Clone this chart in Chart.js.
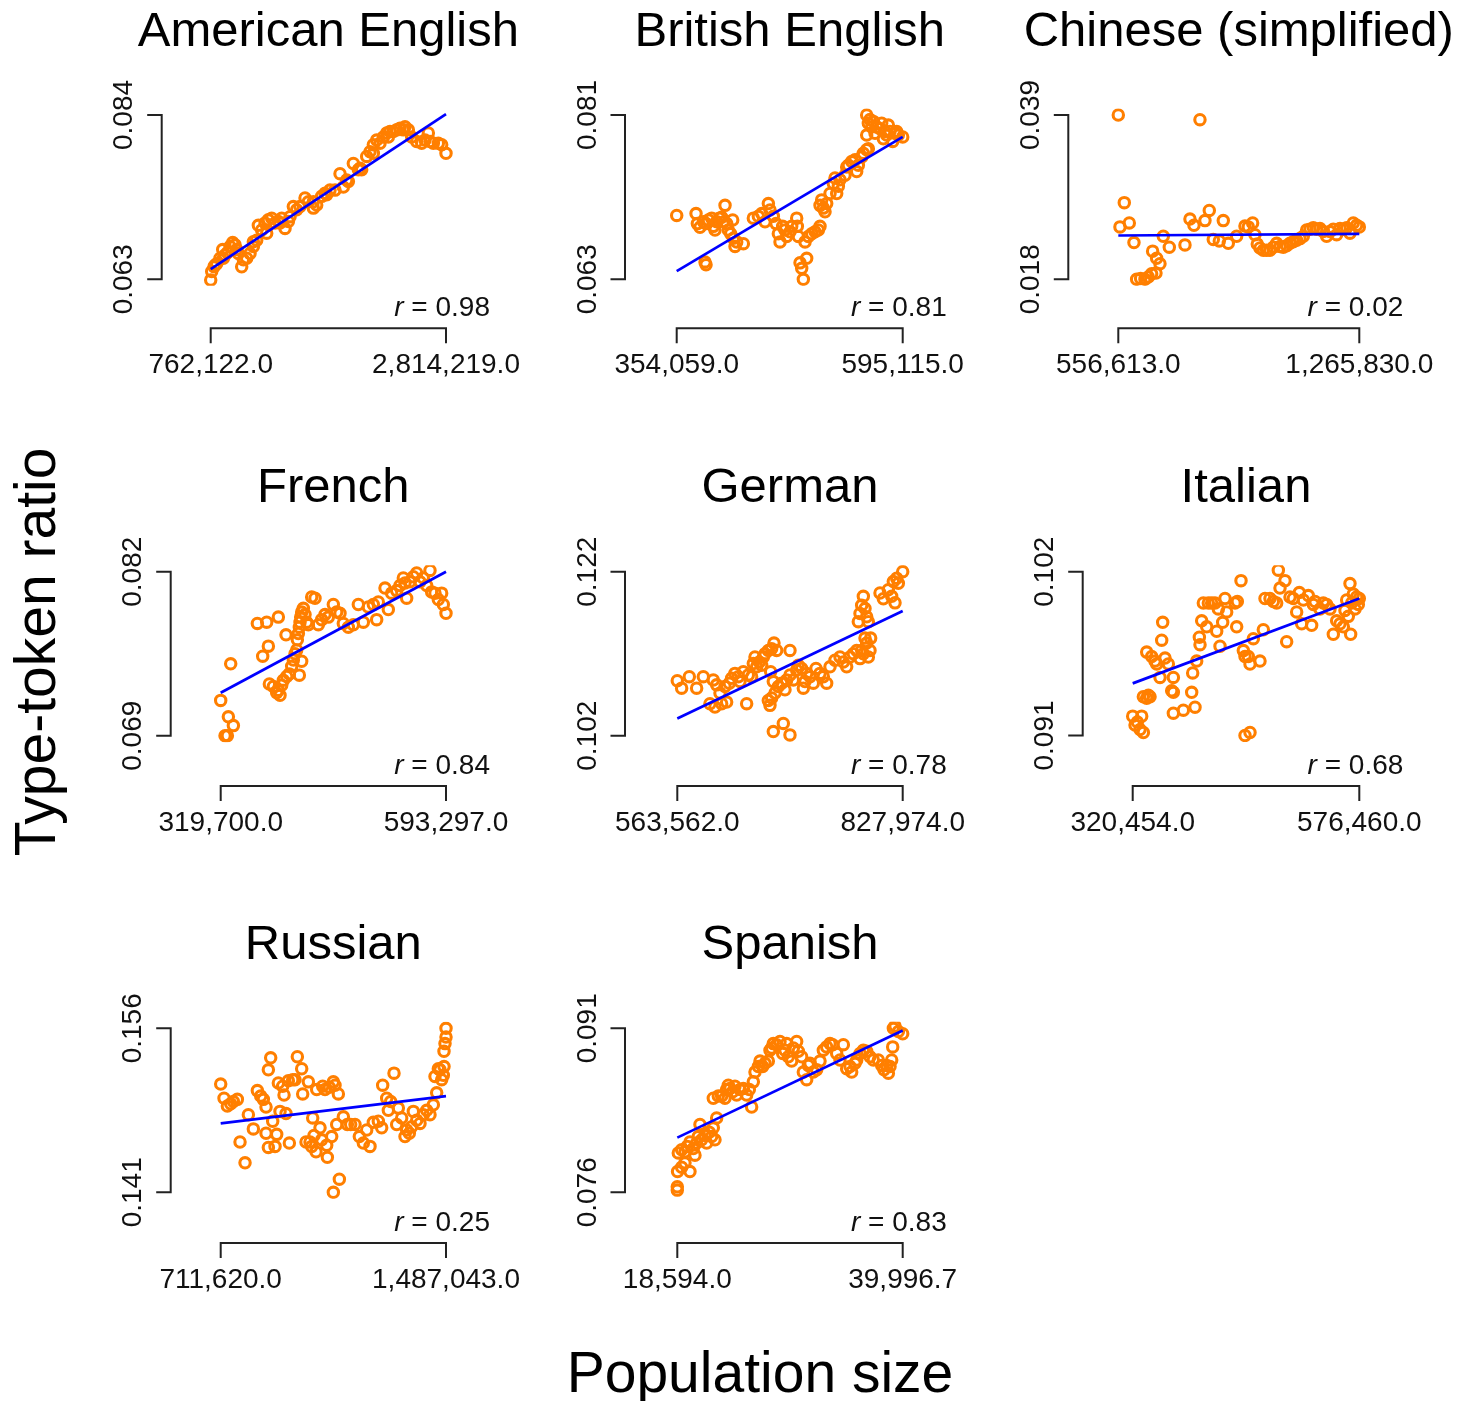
<!DOCTYPE html>
<html><head><meta charset="utf-8">
<script src="https://cdn.jsdelivr.net/npm/chart.js@4.4.0/dist/chart.umd.min.js"></script>
<style>
html,body{margin:0;padding:0;background:#fff;}
#wrap{position:relative;width:1471px;height:1401px;overflow:hidden;font-family:"Liberation Sans",Arial,Helvetica,sans-serif;background:#fff;}
#wrap canvas{position:absolute;left:0;top:0;}
.lab{position:absolute;font-size:57px;line-height:1;color:#000;white-space:nowrap;transform-origin:50% 50%;}
#ylab{left:35px;top:652px;transform:translate(-50%,-50%) rotate(-90deg);}
#xlab{left:760px;top:1372px;transform:translate(-50%,-50%);}
</style></head><body>
<div id="wrap">
<div class="lab" id="ylab">Type-token ratio</div>
<div class="lab" id="xlab">Population size</div>
</div>
<script>
// ---------- DATA ----------
const titles = ["American English","British English","Chinese (simplified)","French","German","Italian","Russian","Spanish"];
const xTicks = [[762122,2814219],[354059,595115],[556613,1265830],[319700,593297],[563562,827974],[320454,576460],[711620,1487043],[18594,39996.7]];
const xTickLabels = [["762,122.0","2,814,219.0"],["354,059.0","595,115.0"],["556,613.0","1,265,830.0"],["319,700.0","593,297.0"],["563,562.0","827,974.0"],["320,454.0","576,460.0"],["711,620.0","1,487,043.0"],["18,594.0","39,996.7"]];
const yTicks = [[0.063,0.084],[0.063,0.081],[0.018,0.039],[0.069,0.082],[0.102,0.122],[0.091,0.102],[0.141,0.156],[0.076,0.091]];
const yTickLabels = [["0.063","0.084"],["0.063","0.081"],["0.018","0.039"],["0.069","0.082"],["0.102","0.122"],["0.091","0.102"],["0.141","0.156"],["0.076","0.091"]];
const rValues = ["0.98","0.81","0.02","0.84","0.78","0.68","0.25","0.83"];
// fitted regression values at the smallest and largest population size
const fitLines = [[0.0643,0.0841],[0.0639,0.0786],[0.0236,0.0238],[0.0724,0.0820],[0.1041,0.1172],[0.0945,0.1002],[0.1473,0.1498],[0.0810,0.0908]];

const americanEnglish = [[762122,0.0629],[770842,0.0640],[791189,0.0646],[814443,0.0650],[843510,0.0657],[866763,0.0668],[887110,0.0661],[907457,0.0664],[930711,0.0672],[953964,0.0677],[974311,0.0674],[1003378,0.0663],[1032445,0.0646],[1046979,0.0655],[1076046,0.0657],[1105113,0.0663],[1134180,0.0672],[1163247,0.0680],[1177780,0.0699],[1206847,0.0693],[1235914,0.0702],[1264981,0.0706],[1294048,0.0708],[1323115,0.0702],[1352182,0.0704],[1381249,0.0708],[1410316,0.0695],[1439383,0.0704],[1482984,0.0723],[1512051,0.0719],[1541118,0.0723],[1584718,0.0734],[1613785,0.0729],[1657386,0.0721],[1686453,0.0725],[1730053,0.0736],[1759120,0.0740],[1802721,0.0744],[1846321,0.0744],[1889922,0.0765],[1918989,0.0748],[1962589,0.0755],[2006190,0.0778],[2049790,0.0770],[2078857,0.0770],[2122458,0.0787],[2151525,0.0793],[2180592,0.0802],[2209659,0.0808],[2238726,0.0804],[2267793,0.0812],[2296860,0.0817],[2325927,0.0819],[2354994,0.0819],[2384061,0.0821],[2413128,0.0823],[2456728,0.0825],[2485795,0.0821],[2514862,0.0812],[2558463,0.0806],[2602063,0.0804],[2631130,0.0808],[2660197,0.0817],[2674730,0.0806],[2703797,0.0804],[2747398,0.0804],[2776465,0.0802],[2814219,0.0791],[799909,0.0648],[872577,0.0657],[988845,0.0668],[1134180,0.0678],[1250448,0.0689],[1366716,0.0702],[1453917,0.0710],[1657386,0.0729],[1773654,0.0738],[1948056,0.0757],[2064324,0.0772],[2180592,0.0791],[2311394,0.0812],[2442195,0.0821]];

const britishEnglish = [[354059,0.0700],[374678,0.0702],[376100,0.0691],[378944,0.0687],[382499,0.0693],[385343,0.0691],[387832,0.0695],[391387,0.0697],[393164,0.0688],[394942,0.0684],[396719,0.0693],[399563,0.0697],[402052,0.0698],[404540,0.0693],[405607,0.0711],[407384,0.0691],[409162,0.0684],[411650,0.0680],[413783,0.0695],[414494,0.0675],[416272,0.0666],[418049,0.0671],[425159,0.0669],[384277,0.0649],[385343,0.0646],[435824,0.0697],[441157,0.0699],[444712,0.0702],[448267,0.0693],[451822,0.0713],[453599,0.0706],[457154,0.0699],[459998,0.0691],[462487,0.0680],[464264,0.0671],[467108,0.0688],[469597,0.0684],[471374,0.0677],[474929,0.0682],[476707,0.0688],[482039,0.0697],[482750,0.0688],[483817,0.0677],[485594,0.0648],[487372,0.0642],[489149,0.0630],[492704,0.0653],[490927,0.0671],[494482,0.0677],[498037,0.0680],[501592,0.0682],[505147,0.0684],[506924,0.0688],[506924,0.0711],[508702,0.0717],[510479,0.0708],[512257,0.0704],[514034,0.0713],[517589,0.0724],[521144,0.0735],[522922,0.0741],[524699,0.0724],[526477,0.0732],[528254,0.0739],[533587,0.0744],[535364,0.0753],[537142,0.0755],[540697,0.0759],[544252,0.0761],[546029,0.0748],[547807,0.0755],[551362,0.0764],[553139,0.0768],[556694,0.0772],[558472,0.0773],[556694,0.0810],[558472,0.0801],[560249,0.0805],[556694,0.0788],[563804,0.0803],[567359,0.0797],[570914,0.0795],[574469,0.0784],[576247,0.0792],[579802,0.0799],[581579,0.0792],[584423,0.0781],[586912,0.0790],[590467,0.0788],[595115,0.0786],[562027,0.0797],[565582,0.0790],[572692,0.0801],[578024,0.0788],[588689,0.0792]];

const chineseSimplified = [[556613,0.0390],[796933,0.0384],[574269,0.0278],[561518,0.0247],[588983,0.0252],[602715,0.0227],[610563,0.0180],[622333,0.0181],[635085,0.0180],[644894,0.0183],[654703,0.0187],[667455,0.0188],[657646,0.0216],[669417,0.0207],[679226,0.0200],[689035,0.0235],[706691,0.0221],[752793,0.0224],[767507,0.0257],[779277,0.0249],[811647,0.0255],[824399,0.0268],[836170,0.0231],[853826,0.0229],[865597,0.0255],[880310,0.0226],[904833,0.0235],[929355,0.0248],[939164,0.0247],[951916,0.0252],[958782,0.0237],[965648,0.0225],[973496,0.0220],[983305,0.0217],[993114,0.0217],[1002923,0.0217],[1012732,0.0221],[1022541,0.0226],[1032350,0.0222],[1042159,0.0221],[1051968,0.0223],[1061777,0.0226],[1071586,0.0228],[1081395,0.0230],[1091204,0.0232],[1101013,0.0235],[1110822,0.0243],[1120631,0.0244],[1130440,0.0246],[1140249,0.0244],[1150058,0.0245],[1159867,0.0241],[1169676,0.0235],[1179485,0.0241],[1189294,0.0244],[1199103,0.0237],[1208912,0.0245],[1218721,0.0244],[1228530,0.0246],[1238339,0.0239],[1248148,0.0252],[1257957,0.0249],[1265830,0.0247]];

const french = [[319700,0.0718],[329008,0.0705],[335079,0.0698],[324961,0.0690],[327794,0.0690],[331841,0.0747],[364217,0.0779],[375549,0.0780],[389713,0.0784],[370692,0.0753],[377572,0.0761],[378786,0.0731],[383643,0.0729],[387690,0.0724],[389713,0.0726],[391737,0.0722],[393760,0.0730],[395784,0.0734],[399021,0.0770],[399831,0.0737],[403068,0.0739],[405901,0.0745],[407925,0.0750],[409948,0.0755],[411972,0.0758],[412781,0.0766],[413995,0.0771],[415209,0.0776],[416019,0.0780],[416828,0.0784],[418042,0.0788],[420066,0.0791],[422089,0.0786],[424113,0.0780],[415209,0.0738],[418042,0.0749],[426136,0.0778],[430183,0.0800],[434230,0.0799],[438277,0.0778],[442324,0.0782],[446371,0.0786],[450418,0.0784],[456489,0.0794],[460536,0.0788],[464583,0.0787],[468630,0.0779],[474700,0.0776],[480771,0.0778],[486841,0.0794],[492912,0.0780],[498982,0.0792],[505053,0.0794],[509100,0.0782],[511123,0.0796],[519217,0.0807],[523264,0.0790],[527311,0.0803],[533382,0.0805],[537429,0.0809],[541476,0.0815],[543499,0.0811],[545523,0.0799],[549570,0.0812],[553617,0.0816],[557664,0.0819],[561711,0.0812],[565758,0.0815],[569805,0.0809],[573852,0.0821],[575875,0.0804],[579922,0.0803],[583969,0.0798],[588016,0.0803],[590039,0.0794],[593297,0.0787]];

const german = [[563562,0.1087],[568646,0.1078],[577642,0.1092],[586246,0.1078],[594068,0.1092],[605801,0.1088],[609712,0.1082],[601890,0.1059],[607756,0.1055],[615578,0.1059],[621445,0.1061],[613623,0.1072],[619489,0.1080],[624574,0.1084],[627311,0.1090],[631222,0.1096],[635133,0.1092],[637089,0.1086],[641000,0.1098],[644911,0.1059],[646866,0.1094],[650777,0.1092],[652733,0.1108],[654688,0.1116],[656644,0.1104],[659773,0.1110],[662510,0.1106],[664466,0.1116],[666421,0.1120],[670332,0.1124],[674243,0.1126],[676981,0.1133],[680110,0.1124],[673070,0.1098],[676199,0.1086],[670332,0.1063],[672288,0.1057],[674243,0.1066],[678154,0.1072],[682065,0.1080],[685976,0.1084],[689887,0.1076],[691843,0.1088],[695754,0.1094],[695754,0.1124],[699665,0.1088],[703576,0.1100],[705531,0.1106],[709442,0.1102],[711398,0.1078],[713353,0.1086],[715309,0.1096],[719220,0.1092],[723131,0.1084],[726260,0.1102],[730953,0.1096],[734864,0.1092],[738775,0.1084],[742686,0.1104],[748552,0.1112],[754419,0.1116],[758330,0.1110],[762241,0.1104],[766152,0.1116],[770063,0.1120],[773974,0.1124],[777885,0.1114],[779840,0.1124],[781796,0.1120],[783751,0.1139],[785707,0.1133],[787662,0.1116],[789618,0.1124],[790400,0.1139],[775929,0.1159],[777885,0.1169],[779840,0.1179],[781796,0.1190],[783751,0.1175],[785707,0.1165],[787662,0.1159],[801350,0.1194],[805261,0.1187],[811128,0.1198],[815039,0.1190],[818950,0.1182],[816995,0.1208],[820906,0.1212],[822861,0.1206],[827974,0.1220],[676199,0.1025],[687932,0.1035],[695754,0.1021]];

const italian = [[320454,0.0923],[323090,0.0917],[325725,0.0919],[328737,0.0914],[332502,0.0912],[330620,0.0923],[332502,0.0936],[336267,0.0935],[338150,0.0937],[340032,0.0936],[336267,0.0966],[341915,0.0963],[345680,0.0960],[347562,0.0958],[351327,0.0949],[353210,0.0974],[354339,0.0986],[356975,0.0962],[360740,0.0958],[364505,0.0940],[366387,0.0939],[366387,0.0949],[366387,0.0925],[377682,0.0927],[390860,0.0929],[387095,0.0939],[388224,0.0952],[392742,0.0960],[395754,0.0976],[396507,0.0971],[398390,0.0987],[400272,0.0999],[404037,0.0983],[405920,0.0999],[409685,0.0999],[415332,0.0980],[413450,0.0999],[417215,0.0995],[419097,0.0970],[422109,0.0986],[424745,0.1002],[426627,0.0993],[436040,0.0999],[437922,0.0983],[438675,0.1000],[442817,0.1014],[445452,0.0967],[447335,0.0963],[451100,0.0963],[452982,0.0958],[456747,0.0975],[464277,0.0960],[468042,0.0981],[469925,0.1002],[475572,0.1002],[479337,0.1000],[483102,0.0999],[484985,0.1021],[486867,0.1009],[492515,0.1014],[494397,0.0973],[498162,0.1003],[501927,0.1002],[505692,0.0993],[508704,0.1006],[511340,0.0985],[513222,0.1001],[518870,0.1004],[522635,0.0984],[524517,0.0998],[526400,0.1000],[532047,0.0995],[535812,0.0999],[539577,0.0998],[543342,0.0995],[547107,0.0978],[550872,0.0987],[554637,0.0985],[558402,0.0983],[560285,0.0994],[562167,0.1001],[564050,0.0990],[565932,0.1012],[566685,0.0978],[567815,0.0999],[569697,0.1005],[571580,0.0995],[573462,0.1003],[575345,0.0998],[576460,0.1002],[447335,0.0910],[452982,0.0912]];

const russian = [[711620,0.1509],[723091,0.1496],[734562,0.1489],[746033,0.1491],[755210,0.1493],[768975,0.1495],[778152,0.1456],[795358,0.1437],[806829,0.1481],[824036,0.1468],[837801,0.1503],[849272,0.1498],[858449,0.1495],[867626,0.1488],[875655,0.1522],[883685,0.1533],[867626,0.1464],[875655,0.1451],[890568,0.1475],[898597,0.1452],[904333,0.1463],[910068,0.1510],[915804,0.1484],[924981,0.1507],[929569,0.1499],[936452,0.1482],[944481,0.1512],[947923,0.1455],[959394,0.1513],[967423,0.1513],[975453,0.1534],[990365,0.1523],[993807,0.1500],[1005278,0.1456],[1013307,0.1511],[1019043,0.1456],[1024778,0.1452],[1028220,0.1478],[1032808,0.1462],[1039691,0.1447],[1041985,0.1504],[1053456,0.1469],[1059191,0.1458],[1062633,0.1507],[1070662,0.1504],[1076398,0.1453],[1078692,0.1442],[1085575,0.1506],[1093604,0.1461],[1099340,0.1511],[1105075,0.1508],[1110811,0.1472],[1116546,0.1500],[1119988,0.1422],[1099340,0.1410],[1133753,0.1479],[1147518,0.1472],[1158989,0.1472],[1173901,0.1472],[1188814,0.1461],[1202579,0.1455],[1214050,0.1467],[1225521,0.1452],[1236992,0.1474],[1254198,0.1475],[1265669,0.1469],[1269111,0.1508],[1282876,0.1496],[1288611,0.1485],[1296641,0.1493],[1308112,0.1519],[1317289,0.1472],[1323024,0.1487],[1334495,0.1478],[1345966,0.1461],[1351702,0.1467],[1360879,0.1464],[1368908,0.1470],[1374644,0.1484],[1386115,0.1476],[1397586,0.1473],[1409057,0.1481],[1420528,0.1485],[1431999,0.1481],[1443470,0.1490],[1449205,0.1516],[1454941,0.1501],[1460676,0.1523],[1466412,0.1522],[1472147,0.1513],[1477883,0.1517],[1480177,0.1539],[1483618,0.1546],[1487043,0.1552],[1487043,0.1560],[1480177,0.1525]];

const spanish = [[18594,0.0762],[18594,0.0765],[18620,0.0779],[19006,0.0783],[19322,0.0787],[19797,0.0779],[18689,0.0796],[19006,0.0799],[19322,0.0797],[19544,0.0802],[19797,0.0806],[20114,0.0800],[20272,0.0794],[20430,0.0805],[20589,0.0811],[20747,0.0822],[20905,0.0808],[21222,0.0812],[21380,0.0805],[21633,0.0815],[21855,0.0811],[22013,0.0819],[22172,0.0808],[22330,0.0828],[22013,0.0846],[22488,0.0848],[22805,0.0848],[23121,0.0846],[23280,0.0854],[23438,0.0858],[23596,0.0855],[23850,0.0852],[24071,0.0857],[24229,0.0849],[24546,0.0854],[24863,0.0855],[25179,0.0849],[25433,0.0854],[25654,0.0838],[25812,0.0861],[25971,0.0870],[26287,0.0875],[26446,0.0880],[26699,0.0875],[26921,0.0878],[27237,0.0880],[27395,0.0890],[27554,0.0892],[27712,0.0896],[28029,0.0895],[28345,0.0898],[28599,0.0887],[28820,0.0890],[28978,0.0896],[29137,0.0884],[29453,0.0880],[29612,0.0892],[29928,0.0898],[30087,0.0889],[30403,0.0884],[30561,0.0870],[30878,0.0863],[31036,0.0876],[31195,0.0878],[31511,0.0870],[31828,0.0872],[32144,0.0880],[32461,0.0890],[32778,0.0893],[33094,0.0896],[33348,0.0895],[33727,0.0887],[34044,0.0881],[34361,0.0895],[34677,0.0873],[34994,0.0875],[35152,0.0870],[35469,0.0878],[35627,0.0881],[35944,0.0887],[36260,0.0890],[36577,0.0889],[36893,0.0884],[37210,0.0881],[37685,0.0881],[38002,0.0876],[38223,0.0872],[38476,0.0876],[38635,0.0869],[38793,0.0875],[38951,0.0881],[39046,0.0893],[39110,0.0910],[39268,0.0912],[39585,0.0907],[39996.7,0.0905]];

// ---------- LAYOUT (pixel positions of each panel's axis ends) ----------
const panelLayout = [
  {l:210.7,r:446,t:115,b:279.3,ax:161.7,ay:328.3,ty:32},
  {l:676.7,r:902.7,t:115,b:279.3,ax:625,ay:328.3,ty:32},
  {l:1118.3,r:1359.3,t:115,b:279.3,ax:1068.3,ay:328.3,ty:32},
  {l:220.7,r:446,t:571.7,b:735.7,ax:170.7,ay:786,ty:488},
  {l:677.3,r:902.7,t:571.7,b:735.7,ax:625,ay:786,ty:488},
  {l:1132.7,r:1359.3,t:571.7,b:735.5,ax:1082.7,ay:786,ty:488},
  {l:220.7,r:446,t:1028.3,b:1192.3,ax:170.7,ay:1243,ty:945},
  {l:677.3,r:902.7,t:1028.3,b:1192.3,ax:625,ay:1243,ty:945}
];
const series = [americanEnglish,britishEnglish,chineseSimplified,french,german,italian,russian,spanish];
const W = 1471, H = 1401;
const FONT = '"Liberation Sans", Arial, Helvetica, sans-serif';
const ORANGE = '#FF7F00', BLUE = '#0000FF', AXIS = '#222';

function panelPlugin(i){
  const L = panelLayout[i];
  return {
    id: 'panelDecor' + i,
    afterDraw(chart){
      const ctx = chart.ctx, xs = chart.scales.x, ys = chart.scales.y;
      const xp0 = xs.getPixelForValue(xTicks[i][0]), xp1 = xs.getPixelForValue(xTicks[i][1]);
      const yp0 = ys.getPixelForValue(yTicks[i][0]), yp1 = ys.getPixelForValue(yTicks[i][1]);
      ctx.save();
      ctx.strokeStyle = AXIS; ctx.lineWidth = 2; ctx.lineCap = 'butt'; ctx.lineJoin = 'miter';
      // y axis
      ctx.beginPath();
      ctx.moveTo(L.ax - 14.5, yp0); ctx.lineTo(L.ax, yp0); ctx.lineTo(L.ax, yp1); ctx.lineTo(L.ax - 14.5, yp1);
      ctx.stroke();
      // x axis
      ctx.beginPath();
      ctx.moveTo(xp0, L.ay + 15); ctx.lineTo(xp0, L.ay); ctx.lineTo(xp1, L.ay); ctx.lineTo(xp1, L.ay + 15);
      ctx.stroke();
      ctx.fillStyle = '#111';
      ctx.font = '28px ' + FONT; ctx.textAlign = 'center'; ctx.textBaseline = 'middle';
      ctx.fillText(xTickLabels[i][0], xp0, L.ay + 37);
      ctx.fillText(xTickLabels[i][1], xp1, L.ay + 37);
      [yp0, yp1].forEach((yp, k) => {
        ctx.save(); ctx.translate(L.ax - 37, yp); ctx.rotate(-Math.PI / 2);
        ctx.fillText(yTickLabels[i][k], 0, 0); ctx.restore();
      });
      // title
      ctx.fillStyle = '#000';
      ctx.font = '49px ' + FONT;
      ctx.fillText(titles[i], (xp0 + xp1) / 2, L.ty);
      // r label
      ctx.fillStyle = '#111';
      ctx.font = '28px ' + FONT; ctx.textAlign = 'right';
      const s = ' = ' + rValues[i];
      const rx = xp1 + 44, ry = L.ay - 20;
      ctx.fillText(s, rx, ry);
      const w = ctx.measureText(s).width;
      ctx.font = 'italic 28px ' + FONT;
      ctx.fillText('r', rx - w, ry);
      ctx.restore();
    }
  };
}

const wrap = document.getElementById('wrap');
series.forEach((pts, i) => {
  const L = panelLayout[i];
  const [x0, x1] = xTicks[i], [y0, y1] = yTicks[i];
  const dx = (x1 - x0) * 0.04, dy = (y1 - y0) * 0.04;
  const pw = (L.r - L.l) * 0.04, ph = (L.b - L.t) * 0.04;
  const cv = document.createElement('canvas');
  cv.width = W; cv.height = H;
  cv.style.width = W + 'px'; cv.style.height = H + 'px';
  wrap.appendChild(cv);
  new Chart(cv, {
    type: 'scatter',
    data: { datasets: [
      { type: 'line', label: 'fit', data: [{x: x0, y: fitLines[i][0]}, {x: x1, y: fitLines[i][1]}],
        borderColor: BLUE, borderWidth: 2.7, pointRadius: 0, fill: false, showLine: true, tension: 0 },
      { label: titles[i], data: pts.map(p => ({x: p[0], y: p[1]})),
        pointRadius: 5.2, pointBorderWidth: 3.1, borderColor: ORANGE, pointBorderColor: ORANGE,
        backgroundColor: 'rgba(0,0,0,0)', pointBackgroundColor: 'rgba(0,0,0,0)', showLine: false }
    ]},
    options: {
      responsive: false, animation: false, devicePixelRatio: 1, events: [],
      layout: { padding: { left: L.l - pw, right: W - (L.r + pw), top: L.t - ph, bottom: H - (L.b + ph) } },
      plugins: { legend: { display: false }, tooltip: { enabled: false }, title: { display: false } },
      scales: {
        x: { type: 'linear', display: false, min: x0 - dx, max: x1 + dx },
        y: { type: 'linear', display: false, min: y0 - dy, max: y1 + dy }
      }
    },
    plugins: [panelPlugin(i)]
  });
});
</script>
</body></html>
